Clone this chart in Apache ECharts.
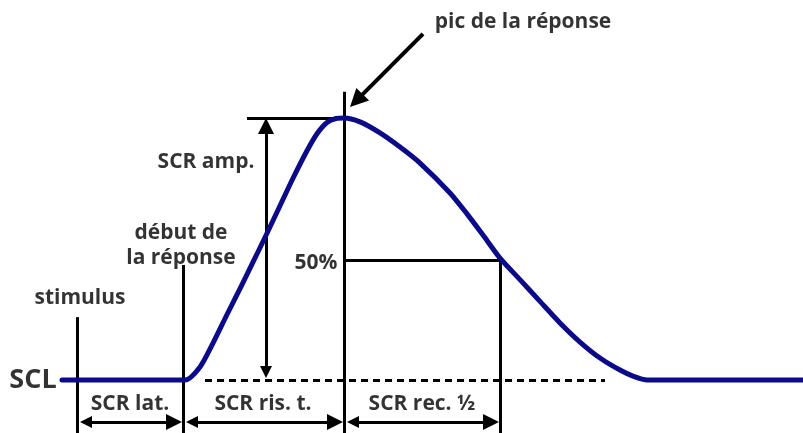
<!DOCTYPE html>
<html><head><meta charset="utf-8">
<script src="https://cdn.jsdelivr.net/npm/echarts@6/dist/echarts.min.js"></script>
<style>html,body{margin:0;padding:0;background:#fff}#c{width:803px;height:433px}</style>
</head><body><div id="c"></div>
<script>
// Time axis (arbitrary units) and normalized skin conductance (SCL = 0, SCR peak = 1)
const curveTime  = [62, 185, 200, 213, 227, 243, 252, 267, 280, 293, 307, 317, 327, 336, 344, 360, 380, 400, 420, 450, 467, 483, 500, 520, 540, 560, 580, 600, 620, 633, 647, 803];
const curveValue = [0, 0, 0.050, 0.141, 0.250, 0.372, 0.442, 0.560, 0.665, 0.770, 0.875, 0.940, 0.983, 0.998, 1, 0.985, 0.943, 0.889, 0.828, 0.714, 0.634, 0.553, 0.465, 0.383, 0.300, 0.218, 0.145, 0.084, 0.038, 0.015, 0, 0];

const eventNames = ['stimulus', 'onset', 'peak', 'halfRecovery'];
const eventTimes = [77, 183, 344, 500];
const eventLineTops = [0.240, 0.439, 1.100, 0.458];

const sclLevel = 0;
const peakLevel = 1;
const halfLevel = 0.458;
const peakGuideStart = 247;
const ampArrowTime = 266;
const baselineDashTime = [205, 605];
const intervalArrowLevel = -0.160;
const peakPointerFrom = [423, 1.321];
const peakPointerTo = [350, 1.042];

const labelTexts = ['pic de la réponse', 'SCR amp.', 'début de\nla réponse', '50%', 'stimulus', 'SCL', 'SCR lat.', 'SCR ris. t.', 'SCR rec. ½'];
const labelTimes = [523, 206, 181, 316, 80, 33, 130, 263, 422];
const labelValues = [1.366, 0.832, 0.515, 0.447, 0.313, 0.0, -0.092, -0.092, -0.092];

const xMin = 0, xMax = 803, yMin = -0.20229, yMax = 1.45038;
const W = 803, H = 433;

const black = '#000';
const navy = '#0b0b8a';
const font = '"Open Sans", "DejaVu Sans", sans-serif';

// pull an arrow end back by half the head length so the tip lands on the end point
const ux = (xMax - xMin) / W, uy = (yMax - yMin) / H;
function inset(a, b, px) {
  const dxp = (b[0] - a[0]) / ux, dyp = (b[1] - a[1]) / uy;
  const L = Math.hypot(dxp, dyp);
  const k = px / L;
  return [[a[0] + (b[0] - a[0]) * k, a[1] + (b[1] - a[1]) * k], [b[0] - (b[0] - a[0]) * k, b[1] - (b[1] - a[1]) * k]];
}

const segs = [];
eventTimes.forEach((t, i) => segs.push([[t, yMin], [t, eventLineTops[i]]]));
segs.push([[peakGuideStart, peakLevel], [eventTimes[2], peakLevel]]);
segs.push([[eventTimes[2], halfLevel], [eventTimes[3], halfLevel]]);

const arrows2 = [];
arrows2.push(inset([ampArrowTime, sclLevel], [ampArrowTime, peakLevel], 8));
for (let i = 0; i < 3; i++) arrows2.push(inset([eventTimes[i] + 1, intervalArrowLevel], [eventTimes[i + 1] - 1, intervalArrowLevel], 8));
const ptr = inset(peakPointerFrom, peakPointerTo, 9);
const pointer = [peakPointerFrom, ptr[1]];

const chart = echarts.init(document.getElementById('c'), null, {renderer: 'canvas'});
chart.setOption({
  animation: false,
  backgroundColor: '#fff',
  grid: {left: 0, right: 0, top: 0, bottom: 0},
  xAxis: {type: 'value', min: xMin, max: xMax, show: false},
  yAxis: {type: 'value', min: yMin, max: yMax, show: false},
  series: [
    {
      type: 'lines', coordinateSystem: 'cartesian2d', z: 3,
      lineStyle: {color: black, width: 3, opacity: 1},
      symbol: ['none', 'none'],
      data: segs.map(c => ({coords: c}))
    },
    {
      type: 'lines', coordinateSystem: 'cartesian2d', z: 3,
      lineStyle: {color: black, width: 3, opacity: 1},
      symbol: ['triangle', 'triangle'], symbolSize: [12, 16],
      data: arrows2.map(c => ({coords: c}))
    },
    {
      type: 'lines', coordinateSystem: 'cartesian2d', z: 3,
      lineStyle: {color: black, width: 4, opacity: 1},
      symbol: ['none', 'triangle'], symbolSize: [14, 18],
      data: [{coords: pointer}]
    },
    {
      type: 'lines', coordinateSystem: 'cartesian2d', z: 2,
      lineStyle: {color: black, width: 3, type: [7, 5], opacity: 1},
      data: [{coords: [[baselineDashTime[0], sclLevel], [baselineDashTime[1], sclLevel]]}]
    },
    {
      type: 'line', z: 4,
      data: curveTime.map((t, i) => [t, curveValue[i]]),
      smooth: 0.25, showSymbol: false, symbol: 'none',
      lineStyle: {color: navy, width: 5, cap: 'round', join: 'round'}
    },
    {
      type: 'scatter', z: 5, symbolSize: 0,
      data: labelTexts.map((s, i) => ({value: [labelTimes[i], labelValues[i]], name: s,
        label: {fontSize: s === 'SCL' ? 27 : 21}})),
      label: {
        show: true, position: 'inside', formatter: p => p.name,
        color: black, fontFamily: font, fontWeight: 'bold', fontSize: 21, lineHeight: 25
      }
    }
  ]
});
</script></body></html>
